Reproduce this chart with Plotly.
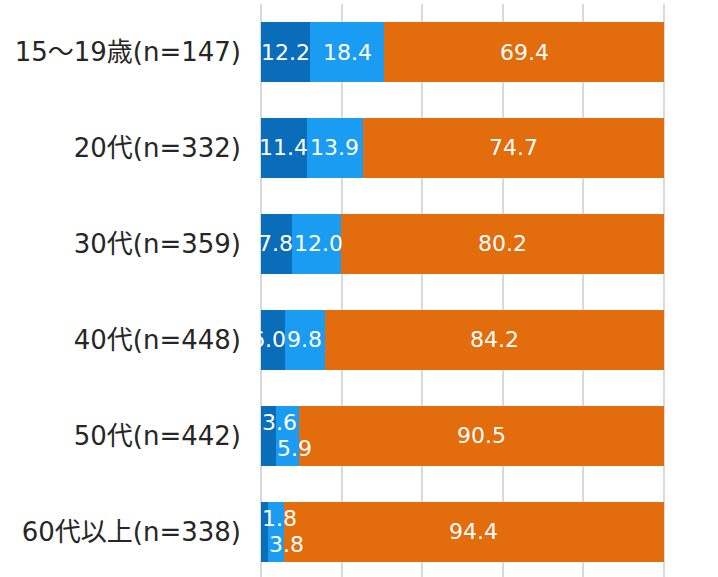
import plotly.graph_objects as go

categories = ["15～19歳(n=147)", "20代(n=332)", "30代(n=359)", "40代(n=448)", "50代(n=442)", "60代以上(n=338)"]
series_names = ["A", "B", "C"]
dark_vals = [12.2, 11.4, 7.8, 6.0, 3.6, 1.8]
light_vals = [18.4, 13.9, 12.0, 9.8, 5.9, 3.8]
orange_vals = [69.4, 74.7, 80.2, 84.2, 90.5, 94.4]
colors = ["#0a6dba", "#1a9cf2", "#e36c0c"]
# rows whose two small segments get stacked (up/down) labels
small_rows = [4, 5]

LABEL_FONT = "DejaVu Sans, Noto Sans CJK JP"
VAL_SIZE = 22
PX_PER_UNIT = 403 / 100.0  # plot width in px per percentage point


def text_px(s, size):
    w = 0
    for ch in s:
        w += 0.318 * size if ch == "." else 0.636 * size
    return w


fig = go.Figure()
all_vals = [dark_vals, light_vals, orange_vals]
for name, vals, col in zip(series_names, all_vals, colors):
    fig.add_trace(go.Bar(
        y=categories, x=vals, name=name, orientation="h",
        marker=dict(color=col, line=dict(width=0)),
        hoverinfo="skip",
    ))

annotations = []
for i, cat in enumerate(categories):
    start = 0.0
    for s, vals in enumerate(all_vals):
        v = vals[i]
        txt = f"{v:.1f}"
        seg_px = v * PX_PER_UNIT
        fits = text_px(txt, VAL_SIZE) <= seg_px
        ann = dict(y=cat, text=txt, showarrow=False, yanchor="middle",
                   font=dict(color="white", size=VAL_SIZE, family="DejaVu Sans"))
        if i in small_rows and s < 2:
            ann.update(x=start, xanchor="left", yshift=(13 if s == 0 else -13), xshift=-1)
        elif fits:
            ann.update(x=start + v / 2, xanchor="center")
        elif s == 0:
            ann.update(x=start + v, xanchor="right", xshift=3)
        else:
            ann.update(x=start, xanchor="left", xshift=0)
        annotations.append(ann)
        start += v

fig.update_layout(
    barmode="stack", bargap=0.375,
    width=718, height=577,
    margin=dict(l=259, r=52, t=4, b=0),
    paper_bgcolor="white", plot_bgcolor="white",
    showlegend=False,
    annotations=annotations,
    font=dict(family=LABEL_FONT),
)
fig.update_xaxes(range=[-0.5, 100.5], tickvals=[0, 20, 40, 60, 80, 100], showgrid=True,
                 gridcolor="#d9d9d9", gridwidth=2,
                 zeroline=False, showticklabels=False, showline=False, fixedrange=True)
fig.update_yaxes(categoryorder="array", categoryarray=categories, range=[5.469, -0.5],
                 showgrid=False, zeroline=False, ticks="", ticklabelstandoff=17,
                 tickfont=dict(size=26, color="#262626", family=LABEL_FONT))

fig.write_html("out.html")
